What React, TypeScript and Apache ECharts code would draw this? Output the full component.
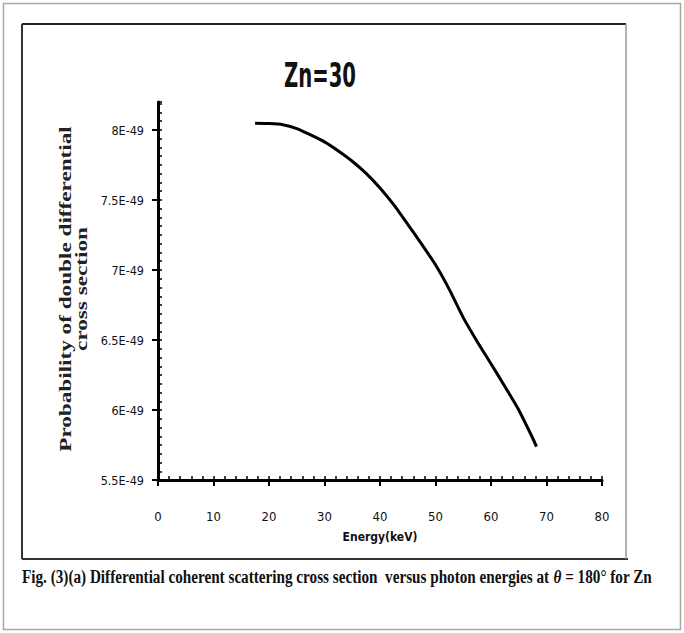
import React, { useEffect, useRef } from "react";
import * as echarts from "echarts";

// Photon energy (keV)
const energies = [17.5, 20, 22.5, 25, 27.5, 30, 32.5, 35, 37.5, 40, 42.5, 45, 47.5, 50, 52.5, 55, 57.5, 60, 62.5, 65, 67.5, 68.2];
// Probability of double differential cross section, in units of 1E-49
const crossSection = [8.048, 8.046, 8.038, 8.01, 7.965, 7.915, 7.85, 7.777, 7.69, 7.586, 7.465, 7.326, 7.185, 7.037, 6.86, 6.66, 6.49, 6.33, 6.168, 6.0, 5.8, 5.738];

const xTickValues = [0, 10, 20, 30, 40, 50, 60, 70, 80];
const yTickValues = [5.5, 6, 6.5, 7, 7.5, 8];
const yTickLabels = ["5.5E-49", "6E-49", "6.5E-49", "7E-49", "7.5E-49", "8E-49"];

const titleText = "Zn=30";
const xAxisName = "Energy(keV)";
const yNameLine1 = "Probability of double differential";
const yNameLine2 = "cross section";
const captionText = "Fig. (3)(a) Differential coherent scattering cross section  versus photon energies at {it|θ} = 180° for Zn";

const NARROW = "'Liberation Sans Narrow', 'DejaVu Sans Condensed', 'Open Sans', sans-serif";
const SERIF = "'Liberation Serif', 'DejaVu Serif', serif";

export default function App() {
  const ref = useRef<HTMLDivElement>(null);

  useEffect(() => {
    if (!ref.current) return;
    const chart = echarts.init(ref.current, null, { renderer: "svg" });
    const option: any = {
      animation: false,
      backgroundColor: "#ffffff",
      grid: { left: 158, right: 82, top: 102, bottom: 153, containLabel: false },
      xAxis: [
        {
          type: "value",
          min: 0,
          max: 80,
          interval: 10,
          position: "bottom",
          axisLine: { show: true, onZero: false, lineStyle: { color: "#000", width: 3 } },
          axisTick: { show: true, length: 6, customValues: xTickValues, lineStyle: { color: "#000", width: 2 } },
          axisLabel: {
            show: true,
            margin: 30,
            customValues: xTickValues,
            fontSize: 13,
            fontFamily: NARROW,
            color: "#111",
          },
          splitLine: { show: false },
          name: xAxisName,
          nameLocation: "middle",
          nameGap: 51,
          nameTextStyle: { fontSize: 12, fontWeight: "bold", fontFamily: NARROW, color: "#111" },
        },
        {
          type: "value",
          min: 0,
          max: 80,
          interval: 2,
          position: "bottom",
          axisLine: { show: false, onZero: false },
          axisTick: { show: true, inside: true, length: 4, lineStyle: { color: "#000", width: 1.5 } },
          axisLabel: { show: false },
          splitLine: { show: false },
        },
      ],
      yAxis: [
        {
          type: "value",
          min: 5.5,
          max: 8.2,
          interval: 0.5,
          position: "left",
          axisLine: { show: true, onZero: false, lineStyle: { color: "#000", width: 3 } },
          axisTick: { show: true, length: 6, customValues: yTickValues, lineStyle: { color: "#000", width: 2 } },
          axisLabel: {
            show: true,
            margin: 14,
            customValues: yTickValues,
            fontSize: 12.5,
            fontFamily: NARROW,
            color: "#111",
            formatter: (v: number) => {
              const i = yTickValues.findIndex((t) => Math.abs(t - v) < 1e-6);
              return i >= 0 ? yTickLabels[i] : "";
            },
          },
          splitLine: { show: false },
        },
        {
          type: "value",
          min: 5.5,
          max: 8.2,
          interval: 0.0625,
          position: "left",
          axisLine: { show: false, onZero: false },
          axisTick: { show: true, inside: true, length: 4, lineStyle: { color: "#000", width: 1.5 } },
          axisLabel: { show: false },
          splitLine: { show: false },
        },
      ],
      series: [
        {
          type: "line",
          xAxisIndex: 0,
          yAxisIndex: 0,
          data: energies.map((e, i) => [e, crossSection[i]]),
          showSymbol: false,
          smooth: 0.2,
          lineStyle: { color: "#000", width: 3 },
        },
      ],
      graphic: [
        {
          type: "rect",
          shape: { x: 3.5, y: 3.5, width: 677, height: 626 },
          style: { fill: "transparent", stroke: "#a8a8a8", lineWidth: 1.5 },
        },
        { type: "line", shape: { x1: 22, y1: 24, x2: 626, y2: 24 }, style: { stroke: "#222", lineWidth: 2 } },
        { type: "line", shape: { x1: 22, y1: 24, x2: 22, y2: 559 }, style: { stroke: "#333", lineWidth: 2 } },
        { type: "line", shape: { x1: 22, y1: 559, x2: 628, y2: 559 }, style: { stroke: "#333", lineWidth: 2 } },
        { type: "line", shape: { x1: 626, y1: 24, x2: 626, y2: 559 }, style: { stroke: "#999", lineWidth: 1.5 } },
        {
          type: "text",
          x: 320,
          y: 76,
          scaleX: 0.84,
          scaleY: 1.3,
          style: {
            text: titleText,
            align: "center",
            verticalAlign: "middle",
            fontSize: 26,
            fontWeight: "bold",
            fontFamily: NARROW,
            fill: "#111",
          },
        },
        {
          type: "text",
          x: 65,
          y: 289,
          rotation: Math.PI / 2,
          scaleX: 1.45,
          style: {
            text: yNameLine1,
            align: "center",
            verticalAlign: "middle",
            fontSize: 16,
            fontWeight: "bold",
            fontFamily: SERIF,
            fill: "#222",
          },
        },
        {
          type: "text",
          x: 81,
          y: 289,
          rotation: Math.PI / 2,
          scaleX: 1.45,
          style: {
            text: yNameLine2,
            align: "center",
            verticalAlign: "middle",
            fontSize: 16,
            fontWeight: "bold",
            fontFamily: SERIF,
            fill: "#222",
          },
        },
        {
          type: "text",
          x: 22,
          y: 577,
          scaleX: 0.8,
          style: {
            text: captionText,
            align: "left",
            verticalAlign: "middle",
            fontSize: 19,
            fontWeight: "bold",
            fontFamily: SERIF,
            fill: "#111",
            rich: {
              it: { fontSize: 19, fontWeight: "bold", fontStyle: "italic", fontFamily: SERIF, fill: "#111" },
            },
          },
        },
      ],
    };
    chart.setOption(option);
    return () => chart.dispose();
  }, []);

  return (
    <div
      ref={ref}
      style={{ position: "absolute", left: 0, top: 0, width: 684, height: 633, background: "#fff" }}
    />
  );
}
